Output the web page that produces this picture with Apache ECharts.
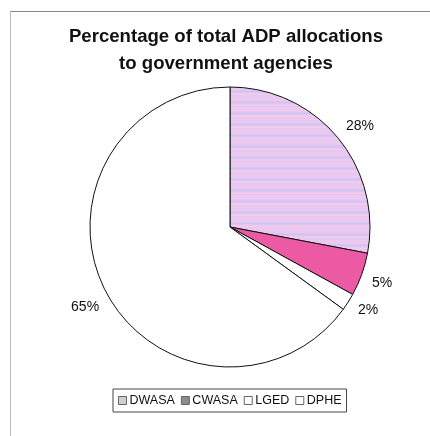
<!DOCTYPE html>
<html><head><meta charset="utf-8">
<script src="https://cdn.jsdelivr.net/npm/echarts@6/dist/echarts.min.js"></script>
<style>html,body{margin:0;padding:0;background:#fff}#c{width:430px;height:436px}</style>
</head><body><div id="c"></div>
<script>
const categories = ['DWASA', 'CWASA', 'LGED', 'DPHE'];
const values = [28, 5, 2, 65];
const labels = ['28%', '5%', '2%', '65%'];
const sliceColors = ['#e2c8f0', '#ec5aa4', '#ffffff', '#ffffff'];
const legendColors = ['#cfcfcf', '#8c8c8c', '#ffffff', '#ffffff'];
const labelNudge = [[2, 5], [-4, 0], [-2, -6], [3, 5]];

// horizontal stripe texture for the lavender slice
const tex = document.createElement('canvas');
tex.width = 8; tex.height = 11;
const tc = tex.getContext('2d');
const stripe = ['#f0caee', '#e8c8f0', '#dcc6f2', '#d2c2f4', '#dcc6f2', '#eecaee', '#f2ccec', '#eac8ee', '#e2c8f2', '#f0caee', '#e6c8f0'];
stripe.forEach((c, i) => { tc.fillStyle = c; tc.fillRect(0, i, 8, 1); });

const chart = echarts.init(document.getElementById('c'));
const center = [230, 227];
chart.setOption({
  animation: false,
  backgroundColor: '#fff',
  title: {
    text: 'Percentage of total ADP allocations\nto government agencies',
    left: 221, top: 18, textAlign: 'center',
    textStyle: { fontFamily: 'Liberation Sans, Arial', fontWeight: 'bold', fontSize: 18.6, color: '#111', lineHeight: 27 }
  },
  graphic: [
    { type: 'line', shape: { x1: 10, y1: 11.5, x2: 430, y2: 11.5 }, style: { stroke: '#888', lineWidth: 1 } },
    { type: 'line', shape: { x1: 10.5, y1: 11, x2: 10.5, y2: 436 }, style: { stroke: '#bbb', lineWidth: 1 } }
  ],
  legend: {
    left: 113, top: 389,
    orient: 'horizontal',
    itemWidth: 8, itemHeight: 8, itemGap: 6,
    padding: [5, 5, 5, 5],
    borderColor: '#444', borderWidth: 1,
    icon: 'rect',
    textStyle: { fontFamily: 'Liberation Sans, Arial', fontSize: 12.5, color: '#111', padding: [0, 0, 0, -2] },
    data: categories.map((n, i) => ({ name: n, itemStyle: { color: legendColors[i], borderColor: '#666', borderWidth: 1 } }))
  },
  series: [
    {
      type: 'pie', center: center, radius: 140, startAngle: 90, clockwise: true,
      legendHoverLink: false,
      label: { show: false }, labelLine: { show: false },
      itemStyle: { borderColor: '#111', borderWidth: 1 },
      data: categories.map((n, i) => ({ name: n, value: values[i],
        itemStyle: { color: i === 0 ? { image: tex, repeat: 'repeat' } : sliceColors[i] } }))
    },
    {
      type: 'pie', center: center, radius: [140, 186], startAngle: 90, clockwise: true,
      silent: true, legendHoverLink: false,
      itemStyle: { color: 'rgba(0,0,0,0)', borderWidth: 0 },
      label: {
        show: true, position: 'inside',
        fontFamily: 'Liberation Sans, Arial', fontSize: 14, color: '#111',
        formatter: p => labels[p.dataIndex]
      },
      labelLine: { show: false },
      data: categories.map((n, i) => ({ name: n, value: values[i], label: { offset: labelNudge[i] } }))
    }
  ]
});
</script></body></html>
